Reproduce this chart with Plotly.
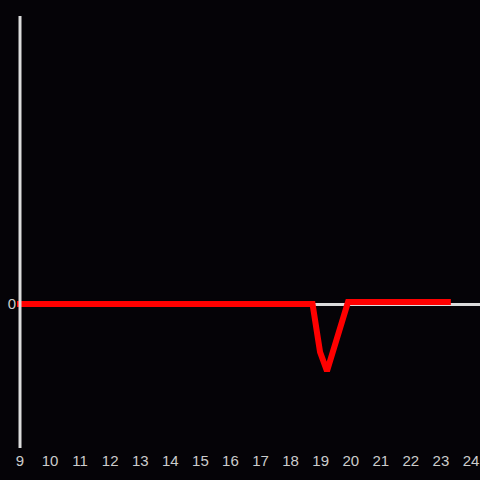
import plotly.graph_objects as go

# Data (hours of day vs value)
hours = [8.8, 9, 10, 11, 12, 13, 14, 15, 16, 17, 18, 18.73, 18.98, 19.21, 19.91, 21, 22, 23.33]
values = [0, 0, 0, 0, 0, 0, 0, 0, 0, 0, 0, 0, -0.48, -0.67, 0.02, 0.02, 0.02, 0.02]
y_ticks = [0]

BG = "#050307"
GRID = "#dcdcdc"
TXT = "#cccccc"

fig = go.Figure()
fig.add_trace(go.Scatter(x=hours, y=values, mode="lines",
                         line=dict(color="#ff0000", width=6), hoverinfo="skip",
                         showlegend=False))

fig.add_shape(type="line", xref="x", yref="paper", x0=9, x1=9, y0=0, y1=1,
              line=dict(color=GRID, width=3), layer="above")

fig.update_layout(
    width=480, height=480,
    margin=dict(l=17, r=0, t=16, b=32),
    paper_bgcolor=BG, plot_bgcolor=BG,
    font=dict(family="Liberation Sans, Arial, sans-serif", size=15, color=TXT),
    xaxis=dict(range=[8.9, 24.3], tick0=9, dtick=1, showgrid=False, zeroline=False,
               showline=False, ticks="", ticklabelstandoff=2,
               tickfont=dict(size=15, color=TXT)),
    yaxis=dict(range=[-1.44, 2.88], tickvals=y_ticks, showgrid=False,
               zeroline=True, zerolinecolor=GRID, zerolinewidth=3,
               showline=False, ticks="", tickfont=dict(size=15, color=TXT)),
)

fig.write_html("out.html", config={"displayModeBar": False},
               post_script="document.body.style.margin='0';document.body.style.background='%s';" % BG)
